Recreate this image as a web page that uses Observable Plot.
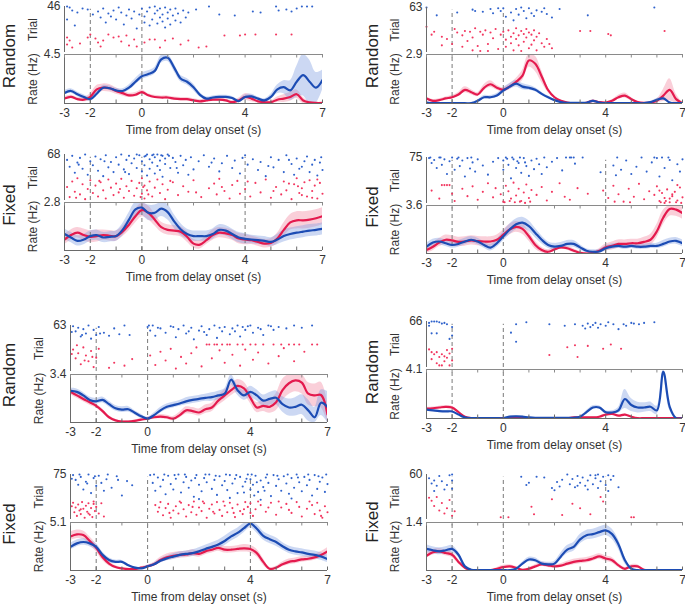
<!DOCTYPE html>
<html><head><meta charset="utf-8">
<script src="https://cdn.jsdelivr.net/npm/d3@7"></script>
<script src="https://cdn.jsdelivr.net/npm/@observablehq/plot@0.6"></script>
<style>
body{margin:0;background:#fff;font-family:"Liberation Sans",Arial,Helvetica,sans-serif;}
#fig{position:relative;width:685px;height:607px;overflow:hidden;background:#fff}
.p{position:absolute}
.rl{position:absolute;transform:translate(-50%,-50%) rotate(-90deg);font-size:17px;color:#222;white-space:nowrap;line-height:1}
</style></head><body><div id="fig"></div>
<script>
// ---- shared axis values ----
const sampleTimes = [-3,-2.75,-2.5,-2.25,-2,-1.75,-1.5,-1.25,-1,-0.75,-0.5,-0.25,0,0.25,0.5,0.75,1,1.25,1.5,1.75,2,2.25,2.5,2.75,3,3.25,3.5,3.75,4,4.25,4.5,4.75,5,5.25,5.5,5.75,6,6.25,6.5,6.75,7];
const allTicks = [-3,-2,-1,0,1,2,3,4,5,6,7];
const shownTicks = [-3,-2,0,4,7];
const randomEvents = [-2,0];
const fixedEvents = [-2,0,4];
// panels in order: row1 left, row1 right, row2 left, row2 right, ...
const conditionNames = ["Random","Random","Fixed","Fixed","Random","Random","Fixed","Fixed"];
const trialCounts = [46,63,68,75,63,66,75,60];
const rateMax = [4.5,2.9,2.8,3.6,3.4,4.1,5.1,1.4];

// ---- panel 1 ----
const p1Blue = [0.97,1.15,0.85,0.6,0.4,0.9,1.45,1.4,1.2,1.15,1.45,2.0,2.5,2.7,3.0,4.05,4.2,3.3,2.3,2.0,1.5,0.8,0.45,0.55,0.6,0.6,0.5,0.22,0.6,0.65,0.45,0.28,0.6,1.3,1.5,1.2,2.0,2.6,2.0,1.45,2.15];
const p1BlueSem = [0.2,0.2,0.2,0.2,0.2,0.2,0.2,0.2,0.2,0.2,0.25,0.3,0.3,0.3,0.3,0.35,0.35,0.35,0.3,0.3,0.3,0.2,0.15,0.15,0.15,0.15,0.15,0.15,0.2,0.2,0.15,0.15,0.25,0.4,0.6,0.9,1.4,1.9,2.0,1.4,0.9];
const p1Red = [0.45,0.6,0.4,0.35,0.6,1.3,1.45,1.4,1.15,0.95,0.75,0.8,1.05,0.75,0.6,0.55,0.55,0.45,0.4,0.4,0.28,0.2,0.28,0.35,0.35,0.28,0.12,0.28,0.6,0.45,0.2,0.12,0.12,0.35,0.45,0.6,0.85,0.28,0.1,0.05,0.05];
const p1RedSem = [0.15,0.15,0.15,0.2,0.3,0.35,0.35,0.35,0.3,0.25,0.2,0.2,0.2,0.15,0.15,0.15,0.15,0.15,0.15,0.15,0.15,0.15,0.15,0.15,0.15,0.15,0.15,0.2,0.3,0.3,0.15,0.1,0.1,0.25,0.35,0.4,0.4,0.3,0.05,0.05,0.05];
const p1BlueDots = "-2.9,46 -2.8,45 -2.7,42 -2.5,40 -2.3,44 -2.9,33 -2.6,27 -2.1,43 -1.9,38 -1.7,41 -1.6,35 -1.5,44 -1.4,30 -1.3,39 -1.2,36 -1.1,42 -1.0,33 -0.9,45 -0.8,40 -0.7,28 -0.6,37 -0.5,43 -0.4,34 -0.3,41 -0.2,24 -0.1,38 0.0,44 0.1,30 0.1,36 0.2,41 0.3,45 0.3,27 0.4,33 0.5,39 0.5,46 0.6,29 0.6,42 0.7,35 0.7,44 0.8,31 0.8,38 0.9,45 0.9,25 1.0,40 1.0,34 1.1,43 1.1,28 1.2,37 1.3,44 1.3,32 1.4,39 1.5,30 1.6,42 1.7,35 1.8,40 2.1,43 2.6,46 3.0,38 3.6,37 4.3,41 4.6,40 5.2,46 5.3,42 5.6,43 5.8,41 6.0,44 6.2,46 6.4,46 6.6,46";
const p1RedDots = "-2.9,15 -2.9,8 -2.8,12 -2.7,5 -2.4,9 -2.1,15 -2.0,18 -1.8,14 -1.7,10 -1.6,6 -1.5,12 -1.3,18 -1.1,15 -0.9,16 -0.8,11 -0.6,17 -0.5,7 -0.3,13 -0.2,6 0.1,10 0.3,13 0.5,13 0.7,5 0.9,12 1.2,14 1.5,8 1.8,12 2.2,5 2.5,6 3.2,17 3.8,17 4.0,18 4.4,18 5.2,18 5.8,18";

// ---- panel 2 ----
const p2Blue = [0.06,0.02,0.02,0.02,0.02,0.02,0.02,0.02,0.16,0.37,0.37,0.47,0.77,1.0,1.18,1.0,0.93,0.81,0.57,0.37,0.2,0.08,0.04,0.04,0.04,0.04,0.16,0.06,0.02,0.02,0.02,0.02,0.02,0.02,0.02,0.08,0.22,0.3,0.06,0.02,0.02];
const p2BlueSem = [0.03,0.02,0.02,0.02,0.02,0.02,0.02,0.03,0.06,0.1,0.1,0.12,0.15,0.18,0.2,0.18,0.15,0.12,0.1,0.08,0.05,0.03,0.02,0.02,0.02,0.02,0.05,0.03,0.02,0.02,0.02,0.02,0.02,0.02,0.02,0.04,0.08,0.1,0.04,0.02,0.02];
const p2Red = [0.3,0.16,0.2,0.3,0.37,0.53,0.81,0.67,0.53,0.93,1.14,0.93,0.81,1.0,1.28,1.65,2.55,2.35,1.6,0.8,0.37,0.16,0.06,0.02,0.02,0.04,0.16,0.08,0.06,0.16,0.37,0.47,0.26,0.08,0.04,0.06,0.16,0.47,0.81,0.26,0.02];
const p2RedSem = [0.08,0.08,0.08,0.08,0.1,0.12,0.18,0.15,0.12,0.18,0.2,0.15,0.12,0.15,0.2,0.3,0.4,0.45,0.35,0.15,0.08,0.05,0.03,0.02,0.02,0.03,0.06,0.04,0.04,0.06,0.12,0.15,0.1,0.04,0.02,0.04,0.1,0.35,0.65,0.3,0.02];
const p2BlueDots = "-3.0,63 -2.6,52 -1.8,56 -1.2,60 -1.1,58 -0.8,57 -0.5,61 -0.4,55 -0.2,62 -0.1,58 0.0,62 0.1,50 0.3,56 0.4,45 0.5,61 0.6,53 0.7,63 0.8,58 0.9,48 1.0,62 1.1,55 1.2,51 1.3,59 1.5,57 1.6,62 1.7,54 1.9,49 2.2,61 3.3,52 5.9,63";
const p2RedDots = "-3.0,36 -2.8,25 -2.7,29 -2.4,22 -2.2,19 -2.0,12 -1.9,33 -1.8,28 -1.6,24 -1.5,30 -1.4,16 -1.3,29 -1.2,21 -1.1,34 -1.0,9 -0.9,29 -0.8,25 -0.7,31 -0.6,12 -0.5,28 -0.4,20 -0.3,33 -0.2,5 -0.1,25 0.0,29 0.1,18 0.1,8 0.2,31 0.3,22 0.3,13 0.4,27 0.4,3 0.5,34 0.5,19 0.6,24 0.6,10 0.7,30 0.7,2 0.8,26 0.8,15 0.9,33 0.9,21 1.0,28 1.0,6 1.1,25 1.1,11 1.2,31 1.2,17 1.3,22 1.3,3 1.4,27 1.5,13 1.6,8 1.7,19 1.8,12 1.9,6 -0.9,2 -1.2,3 -0.6,2 -1.6,8 -2.4,10 3.0,30 3.4,30 4.1,26 4.2,24 6.3,30";

// ---- panel 3 ----
const p3Blue = [0.96,0.76,0.56,0.64,0.84,0.9,0.76,0.8,0.84,1.2,1.8,2.4,2.5,2.2,2.2,2.44,2.24,1.7,1.24,0.96,0.84,0.84,0.84,0.96,1.2,1.16,0.96,0.76,0.68,0.64,0.6,0.56,0.5,0.64,0.84,0.96,1.04,1.1,1.16,1.2,1.26];
const p3BlueSem = [0.3,0.3,0.3,0.3,0.3,0.3,0.3,0.3,0.3,0.35,0.4,0.45,0.45,0.45,0.45,0.45,0.45,0.4,0.35,0.3,0.3,0.3,0.3,0.3,0.3,0.3,0.3,0.3,0.3,0.25,0.25,0.25,0.25,0.3,0.35,0.35,0.35,0.35,0.35,0.35,0.35];
const p3Red = [0.64,0.9,1.04,0.9,0.8,0.84,0.9,0.86,0.84,1.1,1.5,2.0,2.36,2.2,1.8,1.36,1.2,1.16,1.1,0.8,0.4,0.34,0.6,0.9,1.04,1.0,0.9,0.7,0.64,0.6,0.5,0.4,0.44,0.7,1.2,1.64,1.76,1.76,1.8,1.88,2.0];
const p3RedSem = [0.3,0.3,0.3,0.35,0.35,0.35,0.3,0.3,0.3,0.3,0.35,0.4,0.4,0.4,0.35,0.3,0.3,0.3,0.3,0.3,0.25,0.25,0.25,0.3,0.3,0.3,0.3,0.3,0.3,0.25,0.25,0.25,0.25,0.3,0.4,0.45,0.5,0.5,0.5,0.5,0.5];
const p3BlueDots = "-2.9,60 -2.8,50 -2.7,66 -2.6,41 -2.5,56 -2.4,63 -2.3,47 -2.2,68 -2.1,38 -2.0,58 -1.9,52 -1.8,65 -1.7,44 -1.6,61 -1.5,36 -1.4,67 -1.3,49 -1.2,57 -1.1,42 -1.0,64 -0.9,53 -0.8,68 -0.7,46 -0.6,60 -0.5,39 -0.5,66 -0.4,55 -0.3,62 -0.2,48 -0.1,67 0.0,58 0.0,43 0.1,65 0.1,52 0.2,68 0.2,37 0.3,61 0.3,47 0.4,67 0.4,56 0.5,64 0.5,40 0.6,68 0.6,51 0.7,59 0.7,45 0.8,66 0.8,35 0.9,62 0.9,54 1.0,68 1.1,48 1.2,63 1.3,57 1.4,41 1.5,66 1.6,52 1.7,60 1.8,38 1.9,64 2.0,46 2.2,58 2.4,67 2.6,50 2.8,62 3.0,43 3.1,55 3.3,66 3.5,48 3.6,59 3.8,40 4.0,67 4.1,53 4.3,61 4.5,45 4.6,57 4.8,36 5.0,64 5.1,49 5.3,60 5.5,42 5.6,67 5.8,54 5.9,38 6.0,62 6.1,47 6.3,58 6.4,65 6.5,42 6.6,53 6.7,60 6.8,37 6.9,56 7.0,45 -0.2,68 0.15,66 0.45,68 0.75,67 1.05,66 -2.45,53 -1.45,58 -0.65,42 1.35,48 2.7,56 3.9,63 4.9,51 5.7,60 6.2,50 6.95,64";
const p3RedDots = "-2.9,20 -2.8,5 -2.7,28 -2.6,13 -2.5,33 -2.4,9 -2.3,24 -2.2,2 -2.1,17 -2.0,30 -1.9,11 -1.8,22 -1.7,6 -1.6,27 -1.5,15 -1.4,3 -1.3,31 -1.2,19 -1.1,8 -1.0,25 -0.9,12 -0.8,32 -0.7,4 -0.6,21 -0.5,14 -0.4,29 -0.3,7 -0.2,18 -0.1,26 0.0,10 0.0,33 0.1,3 0.1,22 0.2,15 0.3,28 0.4,6 0.5,19 0.6,31 0.7,11 0.8,24 0.9,2 1.0,16 1.2,27 1.4,8 1.6,21 1.8,13 2.0,30 2.3,5 2.6,18 2.8,25 2.9,9 3.0,32 3.2,14 3.4,3 3.5,23 3.7,29 3.8,10 4.0,17 4.2,6 4.4,26 4.6,12 4.8,31 5.0,4 5.2,20 5.4,9 5.5,28 5.6,15 5.8,2 5.9,24 6.0,33 6.1,11 6.2,18 6.3,27 6.4,6 6.5,30 6.6,14 6.7,22 6.8,3 6.9,26 7.0,10 6.8,31 6.2,8 5.7,25 -2.55,4 -1.65,29 -0.85,17 -0.05,5 0.05,20 0.25,9 1.1,29 2.1,12 3.1,20 4.1,28 5.1,14 6.05,21 6.6,4";

// ---- panel 4 ----
const p4Blue = [0.51,0.82,0.9,0.77,0.64,0.72,0.9,1.03,0.9,0.64,0.44,0.77,1.29,1.8,2.19,2.31,2.06,1.54,1.03,0.64,0.51,0.57,0.72,0.72,0.46,0.21,0.13,0.15,0.39,0.51,0.57,0.51,0.57,0.51,0.51,0.57,0.57,0.72,0.9,0.95,0.77];
const p4BlueSem = [0.25,0.25,0.25,0.25,0.25,0.25,0.25,0.25,0.25,0.25,0.25,0.3,0.35,0.4,0.4,0.4,0.4,0.35,0.3,0.25,0.25,0.25,0.25,0.25,0.2,0.15,0.15,0.15,0.2,0.2,0.2,0.2,0.2,0.2,0.2,0.2,0.2,0.25,0.25,0.25,0.25];
const p4Red = [0.26,0.51,0.82,1.03,0.98,0.87,0.9,0.98,0.93,0.9,0.9,1.03,1.41,1.8,2.0,1.85,1.29,0.64,0.26,0.13,0.31,0.46,0.39,0.21,0.05,0.0,0.05,0.21,0.46,0.57,0.72,0.72,0.77,0.77,0.87,1.03,1.67,2.7,3.34,3.29,3.03];
const p4RedSem = [0.25,0.3,0.3,0.35,0.35,0.35,0.35,0.35,0.35,0.35,0.35,0.35,0.35,0.4,0.4,0.4,0.35,0.3,0.2,0.15,0.15,0.15,0.15,0.15,0.1,0.08,0.1,0.15,0.25,0.3,0.3,0.3,0.3,0.3,0.35,0.4,0.5,0.55,0.55,0.5,0.45];
const p4BlueDots = "-2.9,74 -2.8,66 -2.7,71 -2.6,58 -2.5,75 -2.4,63 -2.3,72 -2.2,48 -2.1,69 -2.0,75 -1.9,55 -1.8,73 -1.7,61 -1.6,70 -1.5,44 -1.4,74 -1.3,57 -1.2,67 -1.1,52 -1.0,72 -0.8,62 -0.6,47 -0.4,68 -0.2,74 0.0,70 0.0,55 0.1,75 0.2,63 0.3,41 0.4,72 0.5,58 0.6,66 0.7,50 0.8,74 0.9,61 1.0,45 1.1,70 1.2,56 1.3,73 1.4,64 1.5,48 1.6,75 1.7,59 1.9,68 2.1,74 2.3,54 2.6,75 2.8,65 3.1,75 3.8,51 4.3,62 4.4,46 4.6,55 4.8,70 5.0,48 5.2,60 5.4,75 5.6,52 5.8,67 6.0,74 6.1,44 6.3,58 6.5,71 6.6,38 6.8,64 6.9,52 7.0,72 -2.85,75 -2.45,75 -1.75,75 -1.25,75 0.15,73 0.35,75 0.55,69 0.65,75 0.85,67 2.45,75 2.65,75 2.75,75 4.45,75 5.9,75 6.2,75 6.45,75";
const p4RedDots = "-2.8,21 -2.5,8 -2.4,30 -2.3,30 -2.2,30 -2.1,30 -2.0,16 -1.9,4 -1.6,24 -1.4,12 -1.2,28 -1.0,6 -0.8,19 -0.6,33 -0.4,10 -0.3,25 -0.1,15 0.0,3 0.1,29 0.2,20 0.3,8 0.4,34 0.5,13 0.6,24 0.7,4 0.8,18 0.9,31 1.0,9 1.1,22 1.3,14 1.5,27 1.7,5 1.9,19 2.2,33 2.4,11 2.6,6 2.9,25 3.3,16 3.9,21 4.1,9 4.3,29 4.5,15 4.7,3 4.9,24 5.1,11 5.3,32 5.5,7 5.7,20 5.9,14 6.0,28 6.1,4 6.2,17 6.3,9 6.4,23 6.5,2 6.6,12 6.7,19 6.8,5 6.9,26 7.0,10 6.3,1 6.6,15 6.8,30 6.1,21 6.5,8 0.05,2 0.25,4 0.45,2 0.65,3 0.85,1 1.05,3 4.35,3 4.95,2 6.15,2 6.35,4 6.75,2 6.95,1";

// ---- panel 5 ----
const p5Blue = [2.24,2.17,1.92,1.6,1.5,1.6,1.3,1.01,0.91,0.94,0.69,0.44,0.27,0.52,0.86,1.11,1.23,1.35,1.5,1.6,1.67,1.75,1.8,1.92,2.04,3.03,2.29,1.92,2.17,1.92,1.55,1.67,1.75,1.3,1.06,1.11,1.26,0.86,0.37,1.4,1.1];
const p5BlueSem = [0.2,0.2,0.2,0.2,0.2,0.2,0.2,0.2,0.2,0.2,0.15,0.15,0.1,0.15,0.2,0.2,0.2,0.2,0.25,0.25,0.25,0.25,0.3,0.3,0.35,0.35,0.35,0.35,0.4,0.4,0.4,0.45,0.5,0.55,0.6,0.65,0.7,0.75,0.7,0.9,1.1];
const p5Red = [2.17,1.92,1.67,1.43,1.18,0.81,0.37,0.15,0.07,0.07,0.12,0.2,0.27,0.37,0.42,0.37,0.27,0.52,0.86,0.81,0.71,0.94,1.06,1.55,1.92,2.29,2.59,2.41,1.75,1.06,1.18,1.11,1.43,2.29,2.78,2.98,2.83,2.04,1.92,1.95,0.57];
const p5RedSem = [0.2,0.2,0.2,0.2,0.15,0.15,0.1,0.08,0.05,0.05,0.05,0.08,0.1,0.12,0.15,0.15,0.15,0.2,0.25,0.25,0.25,0.3,0.3,0.35,0.4,0.4,0.45,0.45,0.4,0.35,0.4,0.45,0.6,0.75,0.8,0.8,0.8,0.8,0.8,0.9,0.9];
const p5BlueDots = "-2.9,62 -2.8,55 -2.7,60 -2.6,48 -2.5,58 -2.4,52 -2.3,63 -2.2,45 -2.1,57 -2.0,50 -1.9,61 -1.7,53 -1.5,49 -1.3,59 -1.1,51 -0.9,63 -0.7,50 0.0,61 0.1,56 0.2,63 0.3,49 0.5,59 0.7,53 0.9,62 1.1,47 1.2,58 1.4,63 1.5,52 1.7,60 1.8,44 2.0,56 2.1,62 2.3,50 2.4,58 2.6,63 2.7,46 2.9,55 3.0,61 3.2,51 3.3,59 3.5,63 3.6,48 3.8,57 3.9,62 4.1,53 4.3,60 4.5,50 4.7,63 4.9,57 5.1,61 5.4,59 5.7,63 6.0,60 6.4,63 -2.95,54 -2.55,50 -1.85,52 0.05,63 0.4,60 1.0,61 1.6,55 2.2,54 2.8,60 3.4,55 3.7,61 4.0,63 4.4,58 4.8,62";
const p5RedDots = "-2.9,30 -2.8,18 -2.7,25 -2.6,10 -2.5,33 -2.4,22 -2.3,14 -2.2,28 -2.1,6 -2.0,19 -1.9,31 -1.5,5 -1.3,12 -0.9,8 -0.6,17 0.1,22 0.3,9 0.5,27 0.7,15 0.9,31 1.1,4 1.3,20 1.5,11 1.7,25 1.9,33 2.1,7 2.3,37 2.5,18 2.7,37 2.8,29 3.0,12 3.1,37 3.3,23 3.5,37 3.6,8 3.8,30 4.0,37 4.1,16 4.3,26 4.5,37 4.7,11 4.9,37 5.1,21 5.3,32 5.5,37 5.7,14 5.9,37 6.1,27 6.4,37 6.6,37 -2.95,24 -2.75,36 -2.45,15 -2.15,20 2.4,37 2.6,37 2.9,37 3.2,37 3.7,37 4.2,37 5.2,37 5.7,37";

// ---- panel 6 ----
const p6Blue = [0.74,0.68,0.62,0.59,0.59,0.33,0.09,0.03,0.03,0.03,0.03,0.03,0.03,0.15,0.18,0.15,0.09,0.06,0.06,0.06,0.06,0.06,0.06,0.06,0.15,0.53,0.92,0.92,0.53,0.5,0.68,1.63,1.13,0.92,0.92,0.98,0.68,3.9,0.98,0.03,0.03];
const p6BlueSem = [0.08,0.08,0.08,0.08,0.08,0.06,0.03,0.02,0.02,0.02,0.02,0.02,0.02,0.04,0.05,0.04,0.03,0.02,0.02,0.02,0.02,0.02,0.02,0.02,0.05,0.12,0.15,0.15,0.12,0.15,0.25,0.8,0.55,0.45,0.4,0.4,0.35,0.3,0.3,0.02,0.02];
const p6Red = [0.83,0.86,0.92,0.98,0.92,0.53,0.15,0.03,0.03,0.03,0.03,0.03,0.03,0.03,0.03,0.03,0.03,0.03,0.03,0.03,0.03,0.03,0.03,0.09,0.09,0.09,0.09,0.15,0.33,0.39,0.24,0.33,0.15,0.03,0.03,0.03,0.03,0.03,0.03,0.03,0.03];
const p6RedSem = [0.1,0.1,0.1,0.1,0.1,0.08,0.04,0.02,0.02,0.02,0.02,0.02,0.02,0.02,0.02,0.02,0.02,0.02,0.02,0.02,0.02,0.02,0.02,0.03,0.03,0.03,0.03,0.04,0.06,0.06,0.05,0.06,0.04,0.02,0.02,0.02,0.02,0.02,0.02,0.02,0.02];
const p6BlueDots = "-2.9,64 -2.8,66 -2.7,66 -2.6,66 -2.5,65 -2.4,63 -2.3,64 -2.2,62 -2.0,58 -2.9,60 -2.8,49 -2.6,49 -2.1,41 -2.0,46 0.3,50 0.5,62 0.5,37 0.9,65 1.8,62 2.4,60 2.8,62 3.1,60 3.2,56 3.3,63 3.4,58 3.5,61 3.6,64 3.7,57 3.8,62 4.0,60 4.1,65 4.3,62 4.5,55 4.7,62 4.8,60 5.0,64 5.1,63 5.3,62 5.5,64 5.9,65";
const p6RedDots = "-2.9,26 -2.8,22 -2.8,12 -2.7,19 -2.6,6 -2.6,22 -2.5,15 -2.4,3 -2.4,19 -2.3,9 -2.2,25 -2.2,14 -2.1,3 -2.1,20 -2.0,10 -2.0,27 -2.5,3 -2.3,16 1.8,18 2.5,29 2.8,32 2.9,15 3.3,31 3.9,27 4.2,33 4.6,27";

// ---- panel 7 ----
const p7Blue = [2.51,2.88,3.03,2.88,2.51,1.66,1.11,0.92,0.92,0.55,0.3,0.22,0.44,0.66,1.03,1.29,1.48,1.66,1.77,1.85,2.03,2.29,2.51,2.77,3.14,3.62,3.99,4.5,4.98,4.43,3.69,3.32,3.03,2.58,2.21,2.03,1.92,1.77,1.66,1.48,1.22];
const p7BlueSem = [0.35,0.35,0.35,0.35,0.35,0.3,0.25,0.2,0.15,0.12,0.1,0.1,0.12,0.15,0.2,0.25,0.3,0.3,0.3,0.35,0.4,0.4,0.45,0.45,0.5,0.5,0.5,0.5,0.45,0.45,0.45,0.45,0.45,0.4,0.4,0.4,0.4,0.4,0.4,0.4,0.4];
const p7Red = [3.62,3.84,3.76,3.14,2.4,1.4,0.74,0.37,0.22,0.15,0.15,0.3,0.44,0.66,1.11,1.4,1.55,1.66,1.7,1.85,1.77,2.03,2.21,2.4,2.21,2.21,2.29,2.36,2.29,1.85,0.92,0.18,0.3,0.66,0.92,1.03,1.18,1.25,1.4,1.66,2.03];
const p7RedSem = [0.45,0.45,0.45,0.45,0.4,0.35,0.25,0.15,0.1,0.08,0.08,0.1,0.12,0.2,0.3,0.35,0.35,0.35,0.35,0.35,0.35,0.35,0.35,0.35,0.35,0.35,0.35,0.4,0.4,0.4,0.35,0.15,0.15,0.25,0.3,0.3,0.3,0.3,0.3,0.35,0.4];
const p7BlueDots = "-2.9,74 -2.8,66 -2.7,58 -2.6,71 -2.5,50 -2.4,63 -2.3,75 -2.2,44 -2.1,69 -2.0,56 -1.9,73 -1.8,61 -1.7,48 -1.6,67 -1.4,53 -1.2,72 -1.0,40 -0.8,64 -0.6,57 0.1,74 0.2,61 0.3,48 0.4,70 0.5,55 0.6,66 0.7,42 0.8,73 0.9,59 1.0,50 1.1,68 1.2,75 1.3,45 1.4,62 1.5,71 1.6,53 1.7,65 1.8,38 1.9,74 2.0,58 2.1,47 2.2,69 2.3,62 2.4,75 2.5,51 2.6,66 2.7,41 2.8,72 2.9,57 3.0,64 3.1,49 3.2,74 3.3,60 3.4,68 3.5,44 3.6,71 3.7,55 3.8,63 3.9,75 4.0,50 4.0,67 4.1,58 4.2,73 4.3,46 4.4,65 4.5,54 4.6,70 4.7,61 4.8,39 4.9,74 5.0,56 5.1,67 5.2,48 5.3,72 5.4,60 5.5,43 5.6,69 5.7,53 5.8,75 5.9,62 6.0,47 6.1,71 6.2,57 6.3,66 6.4,40 6.5,74 6.6,51 6.7,63 6.8,70 6.9,46 7.0,59 3.2,36 2.0,34 4.4,33 5.6,35 -2.95,68 -2.65,75 -2.35,60 -2.05,72 -1.55,75 -1.15,66 0.25,75 0.65,75 1.05,74 1.45,75 1.85,69 2.25,75 2.65,73 3.05,75 3.45,74 3.85,68 4.05,75 4.25,62 4.65,75 5.05,73 5.45,75 5.85,70 6.25,75 6.65,72 6.95,75 3.75,45 4.15,40 4.55,48";
const p7RedDots = "-2.9,28 -2.85,12 -2.8,20 -2.75,6 -2.7,25 -2.65,15 -2.6,9 -2.55,29 -2.5,18 -2.45,3 -2.4,23 -2.35,13 -2.3,27 -2.25,8 -2.2,19 -2.15,4 -2.1,26 -2.05,14 -2.0,21 -1.9,10 -1.8,27 -1.7,5 0.3,24 0.4,13 0.5,29 0.6,7 0.7,19 0.8,26 0.9,3 1.0,15 1.1,22 1.2,10 1.3,28 1.4,17 1.5,5 1.6,24 1.7,12 1.8,30 1.9,8 2.0,20 2.1,14 2.2,27 2.3,3 2.4,18 2.5,25 2.6,10 2.7,29 2.8,16 2.9,6 3.0,23 3.1,12 3.2,28 3.3,19 3.4,4 3.5,25 3.6,14 3.7,9 3.8,29 3.9,21 4.0,11 4.0,27 4.1,6 4.2,17 4.4,24 4.6,13 4.8,28 5.0,8 5.2,20 5.4,26 5.6,11 5.8,29 6.0,5 6.2,18 6.4,24 6.5,9 6.6,28 6.7,15 6.8,3 6.9,22 7.0,12 -2.95,22 -2.6,17 -2.3,10 -2.1,30 0.45,20 0.85,11 1.25,30 1.75,21 2.15,30 2.55,13 2.95,30 3.35,11 3.75,17 4.3,30 4.7,20 5.1,30 5.5,16 5.9,21 6.3,30 6.75,6";

// ---- panel 8 ----
const p8Blue = [0.63,0.59,0.56,0.59,0.63,0.46,0.12,0.02,0.01,0.01,0.01,0.01,0.01,0.01,0.05,0.2,0.32,0.3,0.2,0.18,0.2,0.41,0.61,0.69,0.91,1.03,1.06,1.12,1.17,1.06,0.76,0.3,0.05,0.01,0.01,0.01,0.01,0.01,0.01,0.01,0.01];
const p8BlueSem = [0.12,0.1,0.1,0.1,0.1,0.08,0.04,0.01,0.01,0.01,0.01,0.01,0.01,0.01,0.02,0.05,0.07,0.07,0.06,0.06,0.07,0.1,0.12,0.13,0.14,0.14,0.14,0.15,0.15,0.15,0.14,0.1,0.03,0.01,0.01,0.01,0.01,0.01,0.01,0.01,0.01];
const p8Red = [0.43,0.53,0.56,0.51,0.46,0.25,0.08,0.01,0.01,0.01,0.01,0.05,0.1,0.12,0.08,0.02,0.05,0.12,0.18,0.15,0.12,0.14,0.2,0.25,0.28,0.3,0.35,0.41,0.35,0.3,0.15,0.05,0.12,0.12,0.02,0.01,0.01,0.01,0.01,0.01,0.01];
const p8RedSem = [0.08,0.08,0.08,0.08,0.08,0.06,0.03,0.01,0.01,0.01,0.01,0.03,0.05,0.05,0.04,0.02,0.03,0.05,0.06,0.06,0.05,0.06,0.07,0.08,0.08,0.08,0.08,0.08,0.08,0.08,0.06,0.04,0.05,0.05,0.02,0.01,0.01,0.01,0.01,0.01,0.01];
const p8BlueDots = "-2.9,55 -2.8,48 -2.7,52 -2.6,45 -2.5,58 -2.4,51 -2.3,40 -2.2,46 -2.1,59 -2.0,60 -2.0,52 -2.0,41 -2.7,38 0.7,57 0.9,46 1.0,49 1.3,57 1.6,56 1.9,42 2.1,50 2.2,44 2.3,53 2.5,60 2.6,47 2.7,54 2.8,43 2.9,58 3.0,49 3.1,56 3.2,45 3.3,52 3.4,59 3.5,47 3.6,55 3.7,42 3.7,60 3.8,51 3.9,57 4.0,46 4.1,59 4.2,53 4.3,58 4.5,43 2.0,39 3.3,40 4.1,38 3.6,59 2.9,45";
const p8RedDots = "-2.9,29 -2.8,25 -2.7,18 -2.6,30 -2.5,12 -2.4,22 -2.3,8 -2.2,15 -2.1,26 -2.0,5 -1.9,11 -0.1,3 0.2,3 1.1,17 1.2,7 1.9,27 2.3,6 2.7,21 3.0,15 3.4,7 3.8,30 3.9,24 5.0,3 5.1,3";

// ---- layout (pixel frame of each panel) ----
const FONT = '"Liberation Sans", Arial, Helvetica, sans-serif';
const layout = [
  {L:64,R:322,yT:6,yS:52,yR:54,yB:103,lx:9,ly:56},
  {L:426,R:682,yT:7,yS:52,yR:54,yB:103,lx:372,ly:56},
  {L:64,R:322,yT:154,yS:200,yR:202,yB:250,lx:9,ly:205},
  {L:426,R:682,yT:157,yS:203,yR:205,yB:253,lx:372,ly:207},
  {L:70,R:327,yT:325,yS:371,yR:374,yB:422,lx:9,ly:375},
  {L:426,R:682,yT:321,yS:367,yR:369,yB:418,lx:372,ly:372},
  {L:70,R:327,yT:474,yS:519,yR:522,yB:570,lx:9,ly:524},
  {L:426,R:682,yT:474,yS:519,yR:522,yB:570,lx:372,ly:522}
];
const series = [
  [p1Blue,p1BlueSem,p1Red,p1RedSem,p1BlueDots,p1RedDots],
  [p2Blue,p2BlueSem,p2Red,p2RedSem,p2BlueDots,p2RedDots],
  [p3Blue,p3BlueSem,p3Red,p3RedSem,p3BlueDots,p3RedDots],
  [p4Blue,p4BlueSem,p4Red,p4RedSem,p4BlueDots,p4RedDots],
  [p5Blue,p5BlueSem,p5Red,p5RedSem,p5BlueDots,p5RedDots],
  [p6Blue,p6BlueSem,p6Red,p6RedSem,p6BlueDots,p6RedDots],
  [p7Blue,p7BlueSem,p7Red,p7RedSem,p7BlueDots,p7RedDots],
  [p8Blue,p8BlueSem,p8Red,p8RedSem,p8BlueDots,p8RedDots]
];

const C = {blueLine:"#1c4cb4", redLine:"#e41a4e", blueDot:"#2f62cc", redDot:"#f2365f",
           blueBand:"#7f9de0", redBand:"#f3869f", axis:"#6a6a6a", dash:"#7a7a7a", text:"#333"};

function parseDots(s){ return s.trim().split(/\s+/).map(p => { const [t, r] = p.split(",").map(Number); return {t, r}; }); }

const fig = document.getElementById("fig");

function place(svg, left, top){ const d = document.createElement("div"); d.className = "p"; d.style.left = left + "px"; d.style.top = top + "px"; d.appendChild(svg); fig.appendChild(d); }

layout.forEach((g, k) => {
  const [blue, blueSem, red, redSem, bDots, rDots] = series[k];
  const N = trialCounts[k], M = rateMax[k];
  const events = conditionNames[k] === "Random" ? randomEvents : fixedEvents;
  const ml = 50, mr = 3;
  const width = (g.R - g.L) + ml + mr;
  const baseStyle = {fontFamily: FONT, fontSize: "12px", background: "transparent", color: C.text, overflow: "visible"};

  // raster
  const mtR = 8, mbR = 1;
  const raster = Plot.plot({
    width, height: (g.yS - g.yT) + mtR + mbR,
    marginLeft: ml, marginRight: mr, marginTop: mtR, marginBottom: mbR,
    x: {domain: [-3, 7], axis: null},
    y: {domain: [0, N], axis: null},
    style: baseStyle,
    marks: [
      Plot.ruleX(events, {y1: 0, y2: N * 0.94, stroke: C.dash, strokeDasharray: "4,3", strokeWidth: 1}),
      Plot.dot(parseDots(bDots), {x: "t", y: "r", r: 1.05, fill: C.blueDot, stroke: null}),
      Plot.dot(parseDots(rDots), {x: "t", y: "r", r: 1.05, fill: C.redDot, stroke: null}),
      Plot.ruleX([-3], {y1: 0, y2: N, stroke: C.axis}),
      Plot.axisY({ticks: [N], tickSize: 0, tickPadding: 4, label: "Trial", labelArrow: "none", labelAnchor: "center", labelOffset: 36})
    ]
  });
  place(raster, g.L - ml, g.yT - mtR);

  // rate
  const mtT = 6, mbT = 38;
  const hT = g.yB - g.yR;
  const clamp = v => Math.max(0, Math.min(M, v));
  const rows = sampleTimes.map((t, i) => ({t, b: blue[i], bs: blueSem[i], r: red[i], rs: redSem[i]}));
  const tickLen = M * 3.5 / hT;
  const curve = "catmull-rom";
  const rate = Plot.plot({
    width, height: hT + mtT + mbT,
    marginLeft: ml, marginRight: mr, marginTop: mtT, marginBottom: mbT,
    x: {domain: [-3, 7]},
    y: {domain: [0, M]},
    style: baseStyle,
    marks: [
      Plot.areaY(rows, {x: "t", y1: d => clamp(d.r - d.rs), y2: d => clamp(d.r + d.rs), fill: C.redBand, fillOpacity: 0.4, curve, clip: true}),
      Plot.areaY(rows, {x: "t", y1: d => clamp(d.b - d.bs), y2: d => clamp(d.b + d.bs), fill: C.blueBand, fillOpacity: 0.4, curve, clip: true}),
      Plot.ruleX(events, {y1: 0, y2: M, stroke: C.dash, strokeDasharray: "4,3", strokeWidth: 1}),
      Plot.lineY(rows, {x: "t", y: "r", stroke: C.redLine, strokeWidth: 2.2, curve, clip: true}),
      Plot.lineY(rows, {x: "t", y: "b", stroke: C.blueLine, strokeWidth: 2.2, curve, clip: true}),
      Plot.ruleY([0], {stroke: C.axis}),
      Plot.ruleY([M], {stroke: "#8a8a8a"}),
      Plot.ruleX([-3], {stroke: C.axis}),
      Plot.ruleX(allTicks, {y1: 0, y2: tickLen, stroke: C.axis}),
      Plot.ruleX(allTicks, {y1: M, y2: M - tickLen, stroke: "#8a8a8a"}),
      Plot.axisY({ticks: [M], tickSize: 0, tickPadding: 4, tickFormat: d => String(d), label: "Rate (Hz)", labelArrow: "none", labelAnchor: "center", labelOffset: 36}),
      Plot.axisX({ticks: allTicks, tickSize: 0, tickPadding: 5, tickFormat: d => shownTicks.includes(d) ? String(d) : "", label: "Time from delay onset (s)", labelArrow: "none", labelAnchor: "center", labelOffset: 30})
    ]
  });
  place(rate, g.L - ml, g.yR - mtT);

  const lab = document.createElement("div");
  lab.className = "rl";
  lab.style.left = g.lx + "px"; lab.style.top = g.ly + "px";
  lab.textContent = conditionNames[k];
  fig.appendChild(lab);
});
</script>
</body></html>
